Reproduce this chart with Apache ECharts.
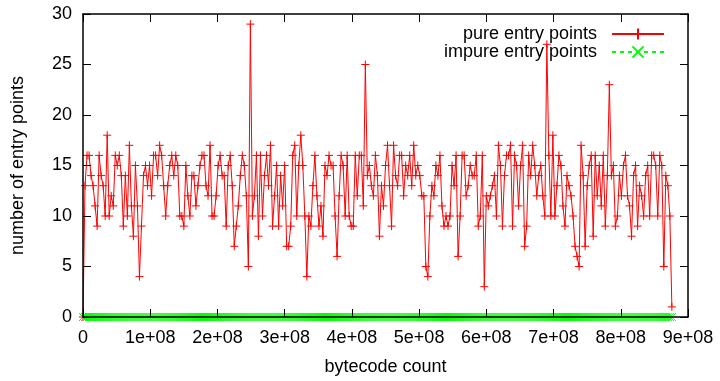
<!DOCTYPE html>
<html>
<head>
<meta charset="utf-8">
<script src="https://cdn.jsdelivr.net/npm/echarts@6/dist/echarts.min.js"></script>
<style>
  html, body { margin: 0; padding: 0; background: #fff; }
  #chart { width: 720px; height: 381px; }
</style>
</head>
<body>
<div id="chart"></div>
<script>
// Sampling interval of the bytecode counter (one sample every 3e6 bytecodes).
const SAMPLE_STEP = 3e6;

// Pure entry points per sample, in order of bytecode count.
const pureA = [0, 13, 16, 16, 14, 13, 11, 9, 16, 14, 13, 10, 18, 10, 12, 11, 16, 15, 16, 14,
  9, 14, 10, 17, 11, 8, 15, 11, 4, 9, 14, 15, 13, 15, 12, 16];
const pureB = [16, 14, 17, 16, 13, 10, 13, 15, 16, 14, 16, 15, 10, 10, 9, 15, 12, 10, 14, 14,
  11, 13, 15, 16, 16, 13, 12, 17, 10, 10, 12, 15, 16, 14, 14, 9, 15, 16, 13, 7];
const pureC = [9, 11, 14, 16, 15, 12, 5, 29, 10, 12, 16, 8, 16, 10, 14, 16, 13, 17, 9, 12,
  15, 9, 14, 11, 15, 7, 7, 9, 16, 17, 10, 15, 18, 15, 10, 4];
const pureD = [10, 9, 13, 16, 12, 9, 11, 8, 15, 14, 16, 15, 15, 10, 6, 12, 16, 15, 10, 16,
  10, 9, 9, 16, 12, 16, 16, 11, 25, 14, 15, 13, 12, 16, 14, 8];
const pureE = [13, 11, 15, 17, 13, 9, 17, 14, 13, 16, 16, 12, 15, 14, 16, 13, 17, 14, 15, 14,
  12, 12, 5, 4, 10, 13, 12, 15, 14, 16, 11, 9, 10, 9, 10, 15, 13, 16, 6];
const pureF = [10, 16, 16, 12, 13, 15, 14, 14, 16, 9, 10, 16, 3, 12, 11, 12, 13, 14, 10, 17,
  15, 9, 14, 16, 16, 17, 9, 16, 15, 11, 15, 17, 7, 9, 16];
const pureG = [14, 17, 15, 12, 14, 15, 12, 10, 27, 16, 10, 18, 10, 13, 16, 15, 11, 9, 14, 13,
  12, 10, 7, 6, 5, 17, 14, 7, 13, 15, 16, 8, 16, 12, 15, 11, 16, 9, 14, 23];
const pureH = [14, 15, 9, 10, 14, 12, 15, 16, 12, 11, 8, 14, 15, 9, 13, 12, 10, 14, 15, 10,
  16, 16, 15, 10, 16, 15, 5, 14, 13, 10, 1];

const pure = [].concat(pureA, pureB, pureC, pureD, pureE, pureF, pureG, pureH);

// Impure entry points per sample (none observed).
const impure = [
  0,0,0,0,0,0,0,0,0,0,0,0,0,0,0,0,0,0,0,0,0,0,0,0,0,0,0,0,0,0,0,0,0,0,0,0,0,0,0,0,
  0,0,0,0,0,0,0,0,0,0,0,0,0,0,0,0,0,0,0,0,0,0,0,0,0,0,0,0,0,0,0,0,0,0,0,0,0,0,0,0,
  0,0,0,0,0,0,0,0,0,0,0,0,0,0,0,0,0,0,0,0,0,0,0,0,0,0,0,0,0,0,0,0,0,0,0,0,0,0,0,0,
  0,0,0,0,0,0,0,0,0,0,0,0,0,0,0,0,0,0,0,0,0,0,0,0,0,0,0,0,0,0,0,0,0,0,0,0,0,0,0,0,
  0,0,0,0,0,0,0,0,0,0,0,0,0,0,0,0,0,0,0,0,0,0,0,0,0,0,0,0,0,0,0,0,0,0,0,0,0,0,0,0,
  0,0,0,0,0,0,0,0,0,0,0,0,0,0,0,0,0,0,0,0,0,0,0,0,0,0,0,0,0,0,0,0,0,0,0,0,0,0,0,0,
  0,0,0,0,0,0,0,0,0,0,0,0,0,0,0,0,0,0,0,0,0,0,0,0,0,0,0,0,0,0,0,0,0,0,0,0,0,0,0,0,
  0,0,0,0,0,0,0,0,0,0,0,0,0
];

const xTickLabels = ['0', '1e+08', '2e+08', '3e+08', '4e+08', '5e+08', '6e+08', '7e+08', '8e+08', '9e+08'];
const yTickLabels = ['0', '5', '10', '15', '20', '25', '30'];

const FONT = '"Liberation Sans", Arial, Helvetica, sans-serif';
const TEXT_SIZE = 18;
const PLUS = 'path://M0,5L10,5M5,0L5,10';
const CROSS = 'path://M0,0L10,10M10,0L0,10';

const toPoints = arr => arr.map((v, i) => [i * SAMPLE_STEP, v]);

const tickStyle = { inside: true, length: 8, lineStyle: { color: '#000', width: 1 } };
const frameLine = { show: true, onZero: false, lineStyle: { color: '#000', width: 1.5 } };

const chart = echarts.init(document.getElementById('chart'), null, { renderer: 'canvas' });
chart.setOption({
  animation: false,
  backgroundColor: '#fff',
  textStyle: { fontFamily: FONT },
  grid: { left: 83, right: 32, top: 14, bottom: 62 },
  legend: {
    orient: 'vertical',
    align: 'right',
    right: 50,
    top: 20,
    padding: 5,
    itemWidth: 52,
    itemHeight: 14,
    itemGap: 0,
    textStyle: { fontFamily: FONT, fontSize: TEXT_SIZE, color: '#000', lineHeight: 17, padding: [0, 10, 0, 0] },
    data: ['pure entry points', 'impure entry points']
  },
  xAxis: [
    {
      type: 'value', min: 0, max: 9e8, interval: 1e8, z: 5,
      axisLine: frameLine, axisTick: tickStyle, splitLine: { show: false },
      axisLabel: {
        fontFamily: FONT, fontSize: TEXT_SIZE, color: '#000', margin: 12,
        formatter: v => xTickLabels[Math.round(v / 1e8)]
      },
      name: 'bytecode count', nameLocation: 'middle', nameGap: 41,
      nameTextStyle: { fontFamily: FONT, fontSize: TEXT_SIZE, color: '#000' }
    },
    {
      type: 'value', position: 'top', min: 0, max: 9e8, interval: 1e8, z: 5,
      axisLine: frameLine, axisTick: tickStyle, splitLine: { show: false },
      axisLabel: { show: false }
    }
  ],
  yAxis: [
    {
      type: 'value', min: 0, max: 30, interval: 5, z: 5,
      axisLine: frameLine, axisTick: tickStyle, splitLine: { show: false },
      axisLabel: {
        fontFamily: FONT, fontSize: TEXT_SIZE, color: '#000', margin: 11,
        formatter: v => yTickLabels[Math.round(v / 5)]
      },
      name: 'number of entry points', nameLocation: 'middle', nameGap: 56, nameRotate: 90,
      nameTextStyle: { fontFamily: FONT, fontSize: TEXT_SIZE, color: '#000' }
    },
    {
      type: 'value', position: 'right', min: 0, max: 30, interval: 5, z: 5,
      axisLine: frameLine, axisTick: tickStyle, splitLine: { show: false },
      axisLabel: { show: false }
    }
  ],
  series: [
    {
      name: 'pure entry points',
      type: 'line',
      data: toPoints(pure),
      showAllSymbol: true,
      symbol: PLUS,
      symbolSize: 8,
      color: '#ff0000',
      lineStyle: { color: '#ff0000', width: 1 },
      itemStyle: { color: '#ff0000', borderColor: '#ff0000', borderWidth: 1 },
      emphasis: { disabled: true }
    },
    {
      name: 'impure entry points',
      type: 'line',
      data: toPoints(impure),
      showAllSymbol: true,
      symbol: CROSS,
      symbolSize: 8,
      color: '#00ff00',
      lineStyle: { color: '#00ff00', width: 1, type: [4, 4] },
      itemStyle: { color: '#00ff00', borderColor: '#00ff00', borderWidth: 1 },
      emphasis: { disabled: true }
    }
  ]
});
</script>
</body>
</html>
